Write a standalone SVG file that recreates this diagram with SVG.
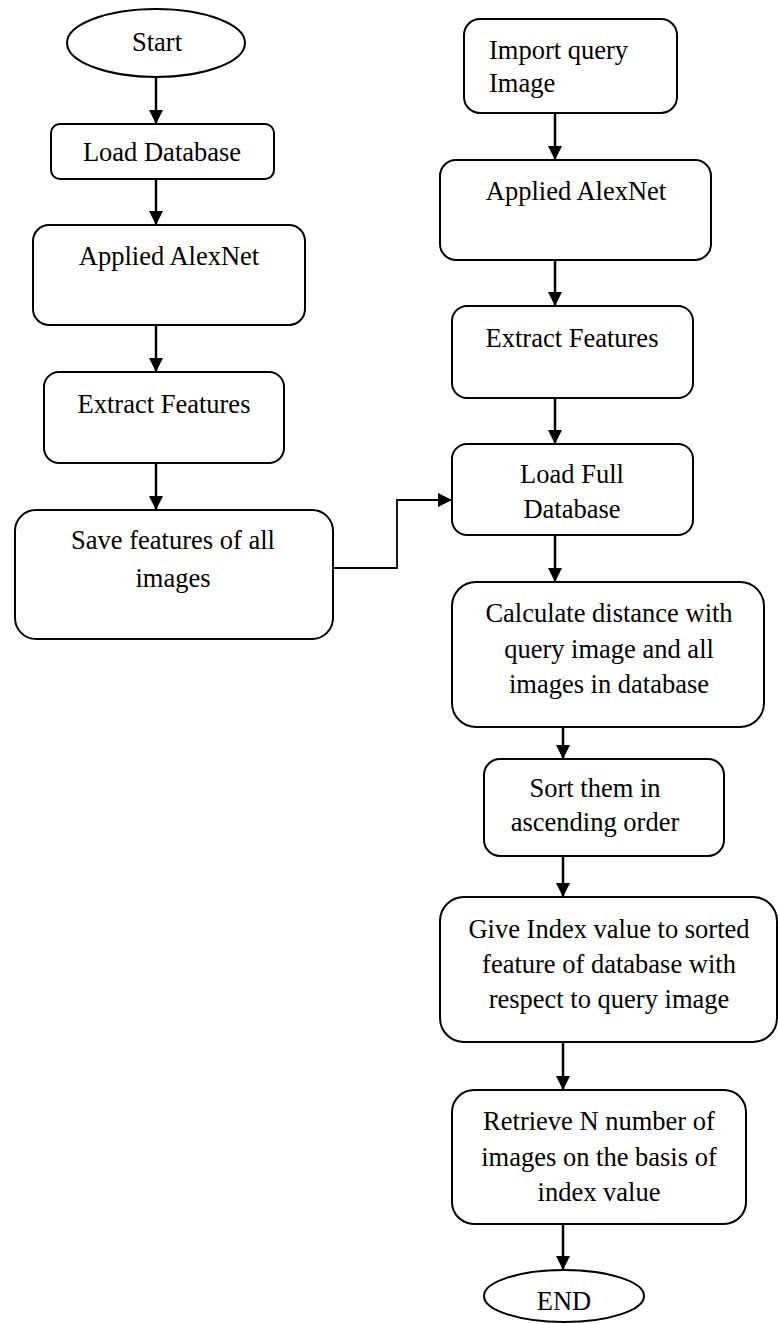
<svg xmlns="http://www.w3.org/2000/svg" width="778" height="1324" viewBox="0 0 778 1324">
<style>
.box{fill:#fff;stroke:#000;stroke-width:2}
.t{font-family:"Liberation Serif","Times New Roman",serif;font-size:26.5px;fill:#000;text-anchor:middle}
.tl{font-family:"Liberation Serif","Times New Roman",serif;font-size:26.5px;fill:#000}
.c{fill:none;stroke:#000;stroke-width:2.5}
.c2{fill:none;stroke:#000;stroke-width:1.8}
</style>
<defs>
<marker id="ah" markerUnits="userSpaceOnUse" markerWidth="15" markerHeight="15" refX="14" refY="7" orient="auto">
<path d="M0,0 L14,7 L0,14 z" fill="#000"/>
</marker>
</defs>
<rect width="778" height="1324" fill="#fff"/>
<g id="connectors">
<line class="c" x1="156" y1="77" x2="156" y2="124" marker-end="url(#ah)"/>
<line class="c" x1="156" y1="179" x2="156" y2="225" marker-end="url(#ah)"/>
<line class="c" x1="156" y1="325" x2="156" y2="372" marker-end="url(#ah)"/>
<line class="c" x1="156" y1="463" x2="156" y2="510" marker-end="url(#ah)"/>
<polyline class="c2" points="333,568 397,568 397,500 452,500" marker-end="url(#ah)"/>
<line class="c" x1="555" y1="113" x2="555" y2="160" marker-end="url(#ah)"/>
<line class="c" x1="555" y1="260" x2="555" y2="306" marker-end="url(#ah)"/>
<line class="c" x1="555" y1="398" x2="555" y2="444" marker-end="url(#ah)"/>
<line class="c" x1="555" y1="535" x2="555" y2="582" marker-end="url(#ah)"/>
<line class="c" x1="563" y1="727" x2="563" y2="759" marker-end="url(#ah)"/>
<line class="c" x1="563" y1="856" x2="563" y2="897" marker-end="url(#ah)"/>
<line class="c" x1="563" y1="1042" x2="563" y2="1090" marker-end="url(#ah)"/>
<line class="c" x1="563" y1="1224" x2="563" y2="1270" marker-end="url(#ah)"/>
</g>
<g id="start">
<ellipse class="box" cx="156" cy="43" rx="89" ry="34"/>
<text class="t" x="157" y="51">Start</text>
</g>
<g id="load-database">
<rect class="box" x="51" y="124" width="223" height="55" rx="9"/>
<text class="t" x="162" y="161">Load Database</text>
</g>
<g id="applied-alexnet-left">
<rect class="box" x="33" y="225" width="272" height="100" rx="16"/>
<text class="t" x="169" y="265">Applied AlexNet</text>
</g>
<g id="extract-features-left">
<rect class="box" x="44" y="372" width="240" height="91" rx="15"/>
<text class="t" x="164" y="413">Extract Features</text>
</g>
<g id="save-features">
<rect class="box" x="15" y="510" width="318" height="129" rx="21"/>
<text class="t" x="173" y="549">Save features of all</text>
<text class="t" x="173" y="587">images</text>
</g>
<g id="import-query">
<rect class="box" x="464" y="19" width="213" height="94" rx="16"/>
<text class="tl" x="489" y="59">Import query</text>
<text class="tl" x="489" y="92">Image</text>
</g>
<g id="applied-alexnet-right">
<rect class="box" x="440" y="160" width="271" height="100" rx="16"/>
<text class="t" x="576" y="200">Applied AlexNet</text>
</g>
<g id="extract-features-right">
<rect class="box" x="452" y="306" width="241" height="92" rx="15"/>
<text class="t" x="572" y="347">Extract Features</text>
</g>
<g id="load-full-database">
<rect class="box" x="452" y="444" width="241" height="91" rx="15"/>
<text class="t" x="572" y="483">Load Full</text>
<text class="t" x="572" y="518">Database</text>
</g>
<g id="calculate-distance">
<rect class="box" x="452" y="582" width="312" height="145" rx="24"/>
<text class="t" x="609" y="622">Calculate distance with</text>
<text class="t" x="609" y="658">query image and all</text>
<text class="t" x="609" y="693">images in database</text>
</g>
<g id="sort">
<rect class="box" x="484" y="759" width="240" height="97" rx="16"/>
<text class="t" x="595" y="797">Sort them in</text>
<text class="t" x="595" y="831">ascending order</text>
</g>
<g id="give-index">
<rect class="box" x="440" y="897" width="337" height="145" rx="24"/>
<text class="t" x="609" y="938">Give Index value to sorted</text>
<text class="t" x="609" y="973">feature of database with</text>
<text class="t" x="609" y="1008">respect to query image</text>
</g>
<g id="retrieve">
<rect class="box" x="452" y="1090" width="294" height="134" rx="22"/>
<text class="t" x="599" y="1130">Retrieve N number of</text>
<text class="t" x="599" y="1166">images on the basis of</text>
<text class="t" x="599" y="1201">index value</text>
</g>
<g id="end">
<ellipse class="box" cx="564" cy="1296" rx="80" ry="26"/>
<text class="t" x="564" y="1310">END</text>
</g>
</svg>
